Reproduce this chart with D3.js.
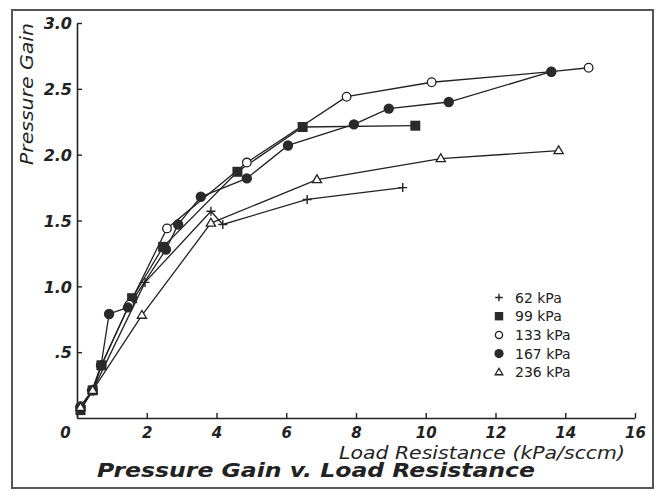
<!DOCTYPE html>
<html>
<head>
<meta charset="utf-8">
<script src="https://cdn.jsdelivr.net/npm/d3@7"></script>
<style>
  body { margin: 0; background: #fff; }
  svg { display: block; }
</style>
</head>
<body>
<div id="chart"></div>
<script>
var svgWidth = 660;
var svgHeight = 491;

// data: [load resistance, pressure gain]
var series = ["62 kPa", "99 kPa", "133 kPa", "167 kPa", "236 kPa"];
var kpa62 = [[0.1, 0.07], [0.45, 0.21], [1.95, 1.03], [3.84, 1.57], [4.18, 1.47], [6.6, 1.66], [9.34, 1.75]];
var kpa99 = [[0.1, 0.06], [0.45, 0.21], [0.7, 0.4], [1.58, 0.91], [2.47, 1.3], [4.6, 1.87], [6.47, 2.21], [9.7, 2.22]];
var kpa133 = [[0.1, 0.09], [0.45, 0.21], [0.7, 0.4], [1.5, 0.86], [2.58, 1.44], [4.87, 1.94], [7.73, 2.44], [10.17, 2.55], [13.6, 2.63], [14.67, 2.66]];
var kpa167 = [[0.1, 0.08], [0.43, 0.21], [0.69, 0.4], [0.92, 0.79], [1.46, 0.84], [2.55, 1.28], [2.9, 1.47], [3.55, 1.68], [4.87, 1.82], [6.05, 2.07], [7.94, 2.23], [8.94, 2.35], [10.66, 2.4], [13.6, 2.63]];
var kpa236 = [[0.1, 0.08], [0.45, 0.21], [1.86, 0.78], [3.84, 1.48], [6.88, 1.81], [10.43, 1.97], [13.81, 2.03]];
var seriesData = [kpa62, kpa99, kpa133, kpa167, kpa236];
var markers = ["plus", "square", "open", "dot", "triangle"];

var xTicks = [0, 2, 4, 6, 8, 10, 12, 14, 16];
var yTicks = [0.5, 1.0, 1.5, 2.0, 2.5, 3.0];
var yTickLabels = [".5", "1.0", "1.5", "2.0", "2.5", "3.0"];

var ink = "#222";

var svg = d3.select("#chart")
  .append("svg")
  .attr("width", svgWidth)
  .attr("height", svgHeight);

svg.append("rect")
  .attr("width", svgWidth).attr("height", svgHeight)
  .attr("fill", "#fff");

// outer frame
svg.append("rect")
  .attr("x", 12).attr("y", 10)
  .attr("width", 641).attr("height", 478)
  .attr("fill", "none")
  .attr("stroke", "#555")
  .attr("stroke-width", 2);

var xScale = d3.scaleLinear().domain([0, 16]).range([77, 635]);
var yScale = d3.scaleLinear().domain([0, 3]).range([418, 23]);

var tickFont = "'DejaVu Sans', sans-serif";

// x axis
var bottomAxis = d3.axisBottom(xScale)
  .tickValues(xTicks)
  .tickSize(-5)
  .tickSizeOuter(0)
  .tickFormat(d3.format("d"));

var gx = svg.append("g")
  .attr("transform", `translate(0, ${yScale(0)})`)
  .call(bottomAxis);

gx.select(".domain").attr("stroke", ink).attr("stroke-width", 1.6);
gx.selectAll(".tick line").attr("stroke", ink).attr("stroke-width", 1.4);
gx.selectAll(".tick text")
  .attr("y", 20)
  .attr("dy", 0)
  .attr("dx", d => d === 0 ? -12 : 0)
  .attr("fill", ink)
  .style("font-family", tickFont)
  .style("font-weight", "bold")
  .style("font-style", "italic")
  .style("font-size", "15px");

// y axis
var leftAxis = d3.axisLeft(yScale)
  .tickValues(yTicks)
  .tickSize(-5)
  .tickSizeOuter(0)
  .tickFormat((d, i) => yTickLabels[i]);

var gy = svg.append("g")
  .attr("transform", `translate(${xScale(0)}, 0)`)
  .call(leftAxis);

gy.select(".domain").attr("stroke", ink).attr("stroke-width", 1.6);
gy.selectAll(".tick line").attr("stroke", ink).attr("stroke-width", 1.4);
gy.selectAll(".tick text")
  .attr("x", -5)
  .attr("dy", "0.36em")
  .attr("fill", ink)
  .style("font-family", tickFont)
  .style("font-weight", "bold")
  .style("font-style", "italic")
  .style("font-size", "16px");

// lines
var line = d3.line()
  .x(d => xScale(d[0]))
  .y(d => yScale(d[1]));

svg.append("g").selectAll("path")
  .data(seriesData)
  .enter()
  .append("path")
  .attr("d", line)
  .attr("fill", "none")
  .attr("stroke", ink)
  .attr("stroke-width", 1.3);

// marker drawing
function drawMarker(g, type, size) {
  if (type === "plus") {
    g.append("path")
      .attr("d", `M${-size},0H${size}M0,${-size}V${size}`)
      .attr("stroke", ink).attr("stroke-width", 1.4).attr("fill", "none");
  } else if (type === "square") {
    g.append("rect")
      .attr("x", -size).attr("y", -size)
      .attr("width", size * 2).attr("height", size * 2)
      .attr("fill", "#2a2a2a");
  } else if (type === "open") {
    g.append("circle")
      .attr("r", size)
      .attr("fill", "#fff").attr("stroke", ink).attr("stroke-width", 1.3);
  } else if (type === "dot") {
    g.append("circle")
      .attr("r", size)
      .attr("fill", "#2a2a2a");
  } else if (type === "triangle") {
    var h = size * 1.7;
    g.append("path")
      .attr("d", `M0,${-h * 0.62}L${size},${h * 0.38}L${-size},${h * 0.38}Z`)
      .attr("fill", "#fff").attr("stroke", ink).attr("stroke-width", 1.3);
  }
}

var plotSizes = { plus: 4.5, square: 5, open: 4.3, dot: 5.2, triangle: 4.6 };

seriesData.forEach(function(data, i) {
  var type = markers[i];
  svg.append("g").selectAll("g")
    .data(data)
    .enter()
    .append("g")
    .attr("transform", d => `translate(${xScale(d[0])}, ${yScale(d[1])})`)
    .each(function() { drawMarker(d3.select(this), type, plotSizes[type]); });
});

// legend
var legendSizes = { plus: 3.8, square: 4.2, open: 3.6, dot: 4.6, triangle: 3.8 };
var legend = svg.append("g").attr("transform", "translate(499, 297.5)");

series.forEach(function(name, i) {
  var row = legend.append("g").attr("transform", `translate(0, ${i * 18.7})`);
  drawMarker(row, markers[i], legendSizes[markers[i]]);
  row.append("text")
    .attr("x", 16)
    .attr("dy", "0.36em")
    .attr("fill", ink)
    .style("font-family", tickFont)
    .style("font-size", "14px")
    .text(name);
});

// axis labels
svg.append("text")
  .attr("transform", "translate(33, 165) rotate(-90)")
  .attr("textLength", 142)
  .attr("lengthAdjust", "spacingAndGlyphs")
  .attr("fill", ink)
  .style("font-family", tickFont)
  .style("font-style", "italic")
  .style("font-size", "17px")
  .text("Pressure Gain");

svg.append("text")
  .attr("x", 339)
  .attr("y", 459)
  .attr("textLength", 286)
  .attr("lengthAdjust", "spacingAndGlyphs")
  .attr("fill", ink)
  .style("font-family", tickFont)
  .style("font-style", "italic")
  .style("font-size", "17px")
  .text("Load Resistance (kPa/sccm)");

svg.append("text")
  .attr("x", 97)
  .attr("y", 477)
  .attr("textLength", 438)
  .attr("lengthAdjust", "spacingAndGlyphs")
  .attr("fill", ink)
  .style("font-family", tickFont)
  .style("font-style", "italic")
  .style("font-weight", "bold")
  .style("font-size", "19px")
  .text("Pressure Gain v. Load Resistance");
</script>
</body>
</html>
